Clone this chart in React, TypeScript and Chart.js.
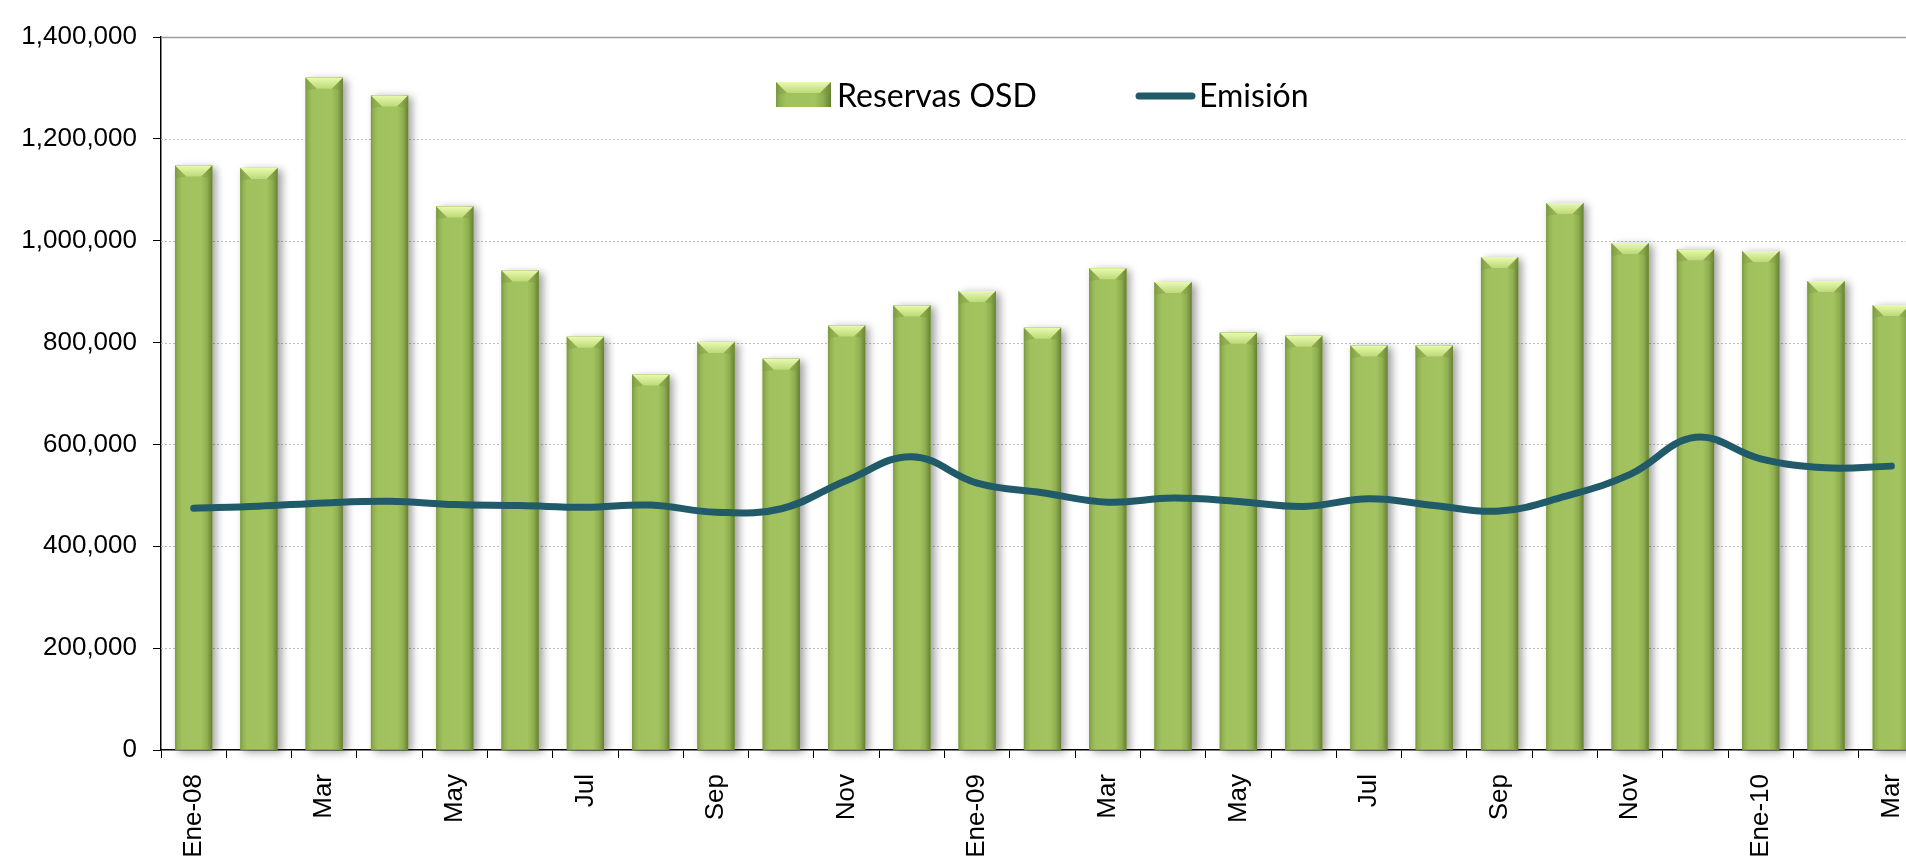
import React, { useEffect, useRef } from 'react';
import { Chart, registerables } from 'chart.js';

Chart.register(...registerables);

const monthLabels = [
  'Ene-08', 'Feb', 'Mar', 'Abr', 'May', 'Jun', 'Jul', 'Ago', 'Sep', 'Oct', 'Nov', 'Dic',
  'Ene-09', 'Feb', 'Mar', 'Abr', 'May', 'Jun', 'Jul', 'Ago', 'Sep', 'Oct', 'Nov', 'Dic',
  'Ene-10', 'Feb', 'Mar',
];

const reservasOSD = [
  1147500, 1142900, 1320100, 1285300, 1067400, 941400, 811400, 737200, 801300, 768300, 833700, 873000,
  901100, 829100, 945700, 918800, 819500, 813400, 794400, 794400, 967900, 1074000, 995400, 983000,
  979700, 920800, 873700,
];

const emision = [
  474700, 478600, 485200, 488500, 481900, 480000, 476700, 481000, 467000, 473700, 529300, 576000,
  524000, 505100, 486700, 494600, 488000, 478200, 493300, 480200, 469100, 497900, 541100, 614000,
  571800, 554100, 557400,
];

const seriesNames = ['Reservas OSD', 'Emisión'];
const yMin = 0;
const yMax = 1400000;
const yStep = 200000;

const BAR_BASE = '#9BBB59';
const LINE_COLOR = '#215A69';

function paintBar(ctx: CanvasRenderingContext2D, left: number, top: number, w: number, h: number) {
  if (h <= 0 || w <= 0) return;
  const g = ctx.createLinearGradient(left, 0, left + w, 0);
  g.addColorStop(0, '#7A9843');
  g.addColorStop(0.07, '#91B152');
  g.addColorStop(0.18, '#A1C15E');
  g.addColorStop(0.7, '#A2C35F');
  g.addColorStop(0.86, '#8FAF50');
  g.addColorStop(1, '#657F33');
  ctx.fillStyle = g;
  ctx.fillRect(left, top, w, h);
  const b = Math.min(11, h / 2, w / 3);
  const vg = ctx.createLinearGradient(0, top, 0, top + b);
  vg.addColorStop(0, '#E9FAAE');
  vg.addColorStop(1, '#BCD978');
  ctx.fillStyle = vg;
  ctx.beginPath();
  ctx.moveTo(left, top);
  ctx.lineTo(left + w, top);
  ctx.lineTo(left + w - b, top + b);
  ctx.lineTo(left + b, top + b);
  ctx.closePath();
  ctx.fill();
  ctx.fillStyle = 'rgba(120,150,60,0.35)';
  ctx.beginPath();
  ctx.moveTo(left, top);
  ctx.lineTo(left + b, top + b);
  ctx.lineTo(left, top + b + 2);
  ctx.closePath();
  ctx.fill();
  ctx.beginPath();
  ctx.moveTo(left + w, top);
  ctx.lineTo(left + w - b, top + b);
  ctx.lineTo(left + w, top + b + 2);
  ctx.closePath();
  ctx.fill();
}

const decorPlugin = {
  id: 'decor',
  beforeDatasetsDraw(chart: any) {
    const { ctx, chartArea } = chart;
    const ys = chart.scales.y;
    ctx.save();
    ys.ticks.forEach((t: any) => {
      const y = Math.round(ys.getPixelForValue(t.value)) + 0.5;
      if (t.value === 0) return;
      ctx.beginPath();
      if (t.value === yMax) {
        ctx.setLineDash([]);
        ctx.strokeStyle = '#9C9C9C';
        ctx.lineWidth = 1.5;
      } else {
        ctx.setLineDash([2, 2]);
        ctx.strokeStyle = '#BDBDBD';
        ctx.lineWidth = 1;
      }
      ctx.moveTo(chartArea.left, y);
      ctx.lineTo(chartArea.right, y);
      ctx.stroke();
    });
    ctx.restore();
  },
  beforeDatasetDraw(chart: any, args: any) {
    if (args.index !== 0) return;
    const { ctx } = chart;
    const meta = chart.getDatasetMeta(0);
    ctx.save();
    ctx.shadowColor = 'rgba(0,0,0,0.38)';
    ctx.shadowBlur = 8;
    ctx.shadowOffsetX = 4;
    ctx.shadowOffsetY = 2;
    ctx.fillStyle = BAR_BASE;
    meta.data.forEach((el: any) => {
      const p = el.getProps(['x', 'y', 'base', 'width'], true);
      ctx.fillRect(p.x - p.width / 2, p.y, p.width, p.base - p.y);
    });
    ctx.restore();
  },
  afterDatasetDraw(chart: any, args: any) {
    if (args.index !== 0) return;
    const { ctx } = chart;
    const meta = chart.getDatasetMeta(0);
    ctx.save();
    meta.data.forEach((el: any) => {
      const p = el.getProps(['x', 'y', 'base', 'width'], true);
      paintBar(ctx, p.x - p.width / 2, p.y, p.width, p.base - p.y);
    });
    ctx.restore();
  },
  afterDraw(chart: any) {
    const { ctx } = chart;
    const ds = chart.data.datasets;
    ctx.save();
    paintBar(ctx, 776, 82, 55, 25);
    ctx.fillStyle = '#000';
    ctx.font = '32px Lato';
    ctx.textBaseline = 'alphabetic';
    ctx.textAlign = 'left';
    ctx.fillText(ds[0].label, 837, 107);
    ctx.strokeStyle = LINE_COLOR;
    ctx.lineWidth = 7;
    ctx.lineCap = 'round';
    ctx.beginPath();
    ctx.moveTo(1139, 96);
    ctx.lineTo(1192, 96);
    ctx.stroke();
    ctx.fillText(ds[1].label, 1199, 107);
    ctx.restore();
  },
};

export default function App() {
  const ref = useRef<HTMLCanvasElement>(null);
  useEffect(() => {
    if (!ref.current) return;
    const chart = new Chart(ref.current, {
      type: 'bar',
      data: {
        labels: monthLabels,
        datasets: [
          {
            type: 'bar',
            label: seriesNames[0],
            data: reservasOSD,
            backgroundColor: BAR_BASE,
            borderWidth: 0,
            barPercentage: 0.57,
            categoryPercentage: 1,
            order: 1,
          },
          {
            type: 'line',
            label: seriesNames[1],
            data: emision,
            borderColor: LINE_COLOR,
            borderWidth: 7,
            borderCapStyle: 'round',
            borderJoinStyle: 'round',
            tension: 0.4,
            pointRadius: 0,
            fill: false,
            order: 0,
          } as any,
        ],
      },
      options: {
        animation: false,
        responsive: false,
        devicePixelRatio: 1,
        layout: { padding: { left: 0, top: 37, right: 16, bottom: 0 } },
        plugins: {
          legend: { display: false },
          tooltip: { enabled: false },
        },
        scales: {
          x: {
            offset: true,
            grid: {
              display: true,
              drawOnChartArea: false,
              drawTicks: true,
              tickLength: 8,
              tickColor: '#000',
              offset: true,
            },
            border: { display: true, color: '#000', width: 1.5 },
            ticks: {
              autoSkip: false,
              minRotation: 90,
              maxRotation: 90,
              padding: 16,
              color: '#000',
              font: { family: '"Liberation Sans", Arial, sans-serif', size: 26 },
              callback: (_v: any, i: number) => (i % 2 === 0 ? monthLabels[i] : ''),
            },
            afterFit: (axis: any) => {
              axis.height = 150;
            },
          },
          y: {
            min: yMin,
            max: yMax,
            grid: {
              display: true,
              drawOnChartArea: false,
              drawTicks: true,
              tickLength: 8,
              tickColor: '#000',
            },
            border: { display: true, color: '#000', width: 1.5 },
            ticks: {
              stepSize: yStep,
              padding: 16,
              color: '#000',
              font: { family: '"Liberation Sans", Arial, sans-serif', size: 26 },
              callback: (v: any) => Number(v).toLocaleString('en-US'),
            },
            afterFit: (axis: any) => {
              axis.width = 161;
            },
          },
        },
      },
      plugins: [decorPlugin],
    });
    return () => chart.destroy();
  }, []);

  return (
    <div
      style={{
        position: 'fixed',
        left: 0,
        top: 0,
        width: 1906,
        height: 857,
        overflow: 'hidden',
        background: '#fff',
      }}
    >
      <canvas ref={ref} width={1940} height={900} style={{ display: 'block', width: 1940, height: 900 }} />
    </div>
  );
}
